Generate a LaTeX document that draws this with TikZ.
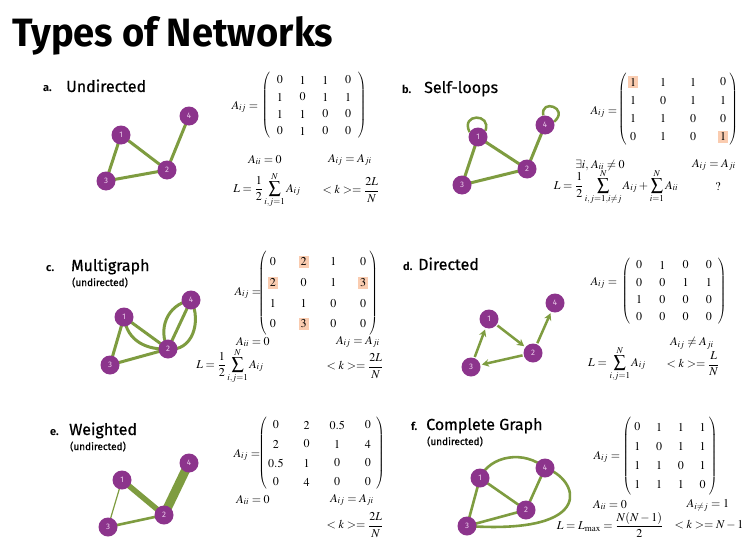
\documentclass[tikz,border=0pt]{standalone}
\usepackage{amsmath}
\usepackage{mathptmx}
\usepackage[no-math]{fontspec}
\setsansfont{Fira Sans}
\newfontfamily\medsans{Fira Sans}[FakeBold=0.6]
\usepackage{graphicx}
\usetikzlibrary{matrix,arrows.meta}
\pgfdeclarelayer{bg}
\pgfsetlayers{bg,main}
\definecolor{npurple}{RGB}{140,52,140}
\definecolor{ntext}{RGB}{236,206,236}
\definecolor{egreen}{RGB}{126,156,64}
\definecolor{hlc}{RGB}{250,204,176}
\setlength{\fboxsep}{2pt}
\newcommand{\hl}[1]{\colorbox{hlc}{$#1$}}
\tikzset{
 vtx/.style={circle, fill=npurple, minimum size=19pt, inner sep=0pt, text=ntext, font=\sffamily\fontsize{8}{8}\selectfont},
 gedge/.style={draw=egreen, line width=3pt},
 darr/.style={draw=egreen, line width=2.5pt, -{Stealth[length=7pt,width=7.5pt]}, shorten >=1.5pt, shorten <=1pt},
 ptitle/.style={anchor=base west, inner sep=0pt, font=\medsans\fontsize{16}{16}\selectfont},
 pletter/.style={anchor=base west, inner sep=0pt, font=\sffamily\bfseries\fontsize{11}{11}\selectfont},
 psub/.style={anchor=base west, inner sep=0pt, font=\medsans\fontsize{10}{10}\selectfont},
 fml/.style={inner sep=0pt, font=\fontsize{12}{14}\selectfont},
 every delimiter/.style={inner sep=0pt},
 dshift/.style={every left delimiter/.style={xshift=#1}, every right delimiter/.style={xshift=-#1}},
 mtx/.style={matrix of math nodes, left delimiter=(, right delimiter=), inner sep=0pt, row sep=0pt,
   nodes={inner sep=0pt, anchor=center, minimum width=10pt, font=\fontsize{12}{14}\selectfont}},
}
\begin{document}
\begin{tikzpicture}[x=1pt,y=-1pt]
\useasboundingbox (0,0) rectangle (752,543);
\begin{pgfonlayer}{bg}
\fill[white] (0,0) rectangle (752,543);
\end{pgfonlayer}
\node[anchor=base west, inner sep=0pt] (title) at (12,47) {\resizebox{321pt}{30pt}{\sffamily\bfseries Types of Networks}};

% ---------- a. Undirected
\node[pletter] (la1) at (43,92) {a.};
\node[ptitle] (la2) at (66,92) {Undirected};
\node[vtx] (a1) at (121,135) {1};
\node[vtx] (a2) at (167,170) {2};
\node[vtx] (a3) at (106,181) {3};
\node[vtx] (a4) at (189,116) {4};
\begin{pgfonlayer}{bg}
\draw[gedge] (a1.center) -- (a2.center);
\draw[gedge] (a1.center) -- (a3.center);
\draw[gedge] (a3.center) -- (a2.center);
\draw[gedge] (a2.center) -- (a4.center);
\end{pgfonlayer}
\node[fml] (aA) at (245,107) {$A_{ij}=$};
\matrix (ma) [mtx, inner xsep=3.5pt, column sep=12.7pt, nodes={minimum height=17pt}] at (314,105.5)
 {0&1&1&0\\1&0&1&1\\1&1&0&0\\0&1&0&0\\};
\node[fml] (aii) at (265,160) {$A_{ii}=0$};
\node[fml] (asym) at (350,160) {$A_{ij}=A_{ji}$};
\node[fml] (aL) at (267,190) {$L=\dfrac{1}{2}\displaystyle\sum_{i,j=1}^{N}A_{ij}$};
\node[fml] (ak) at (351,190) {$<k>=\dfrac{2L}{N}$};

% ---------- b. Self-loops
\node[pletter] (lb1) at (402,93) {b.};
\node[ptitle] (lb2) at (424,93) {Self-loops};
\node[vtx] (b1) at (478,137) {1};
\node[vtx] (b2) at (527,169) {2};
\node[vtx] (b3) at (462,185) {3};
\node[vtx] (b4) at (545,125) {4};
\begin{pgfonlayer}{bg}
\draw[gedge] (b1.center) -- (b2.center);
\draw[gedge] (b1.center) -- (b3.center);
\draw[gedge] (b3.center) -- (b2.center);
\draw[gedge] (b2.center) -- (b4.center);
\draw[gedge, line width=2.5pt] (b1.150) .. controls (460,113) and (492,113) .. (b1.40);
\draw[gedge, line width=2.5pt] (b4.100) .. controls (540,98) and (570,108) .. (b4.20);
\end{pgfonlayer}
\node[fml] (bA) at (604,112) {$A_{ij}=$};
\matrix (mb) [mtx, dshift=5pt, column sep=20pt, nodes={minimum height=18.3pt}] at (678,109.5)
 {\hl{1}&1&1&0\\1&0&1&1\\1&1&0&0\\0&1&0&\hl{1}\\};
\node[fml] (bii) at (600,165) {$\exists i,\, A_{ii}\neq 0$};
\node[fml] (bsym) at (714,165) {$A_{ij}=A_{ji}$};
\node[fml] (bL) at (616,187) {$L=\dfrac{1}{2}\displaystyle\sum_{i,j=1,i\neq j}^{N}A_{ij}+\sum_{i=1}^{N}A_{ii}$};
\node[fml] (bk) at (718,187) {$?$};

% ---------- c. Multigraph
\node[pletter] (lc1) at (46,271) {c.};
\node[ptitle] (lc2) at (71,271) {Multigraph};
\node[psub] (lc3) at (72,286) {(undirected)};
\node[vtx] (c1) at (124,317) {1};
\node[vtx] (c2) at (168,349) {2};
\node[vtx] (c3) at (110,365) {3};
\node[vtx] (c4) at (191,300) {4};
\begin{pgfonlayer}{bg}
\draw[gedge] (c1.center) -- (c3.center);
\draw[gedge] (c3.center) -- (c2.center);
\draw[gedge] (c1.center) -- (c2.center);
\draw[gedge] (c1.center) .. controls (127,342) and (148,350) .. (c2.center);
\draw[gedge] (c2.center) -- (c4.center);
\draw[gedge] (c2.center) .. controls (158,330) and (166,305) .. (c4.center);
\draw[gedge] (c2.center) .. controls (192,352) and (202,322) .. (c4.center);
\end{pgfonlayer}
\node[fml] (cA) at (248,293) {$A_{ij}=$};
\matrix (mc) [mtx, dshift=7pt, column sep=20.7pt, nodes={minimum height=20.7pt, minimum width=8pt}] at (318,293)
 {0&\hl{2}&1&0\\\hl{2}&0&1&\hl{3}\\1&1&0&0\\0&\hl{3}&0&0\\};
\node[fml] (cii) at (253,342) {$A_{ii}=0$};
\node[fml] (csym) at (358,342) {$A_{ij}=A_{ji}$};
\node[fml] (cL) at (230,366) {$L=\dfrac{1}{2}\displaystyle\sum_{i,j=1}^{N}A_{ij}$};
\node[fml] (ck) at (355,366) {$<k>=\dfrac{2L}{N}$};

% ---------- d. Directed
\node[pletter] (ld1) at (403,270) {d.};
\node[ptitle] (ld2) at (418,270) {Directed};
\node[vtx] (d1) at (489,319) {1};
\node[vtx] (d2) at (533,353) {2};
\node[vtx] (d3) at (471,367) {3};
\node[vtx] (d4) at (555,303) {4};
\draw[darr] (d1) -- (d2);
\draw[darr] (d2) -- (d3);
\draw[darr] (d3) -- (d1);
\draw[darr] (d2) -- (d4);
\node[fml] (dA) at (604,283) {$A_{ij}=$};
\matrix (md) [mtx, inner xsep=2.5pt, column sep=13.3pt, nodes={minimum height=17.3pt}] at (674,291)
 {0&1&0&0\\0&0&1&1\\1&0&0&0\\0&0&0&0\\};
\node[fml] (dsym) at (692,343) {$A_{ij}\neq A_{ji}$};
\node[fml] (dL) at (617,364) {$L=\displaystyle\sum_{i,j=1}^{N}A_{ij}$};
\node[fml] (dk) at (693,364) {$<k>=\dfrac{L}{N}$};

% ---------- e. Weighted
\node[pletter] (le1) at (50,435) {e.};
\node[ptitle] (le2) at (69,435) {Weighted};
\node[psub] (le3) at (70,450) {(undirected)};
\node[vtx] (e1) at (122,480) {1};
\node[vtx] (e2) at (164,515) {2};
\node[vtx] (e3) at (108,527) {3};
\node[vtx] (e4) at (189,463) {4};
\begin{pgfonlayer}{bg}
\draw[gedge, line width=1.2pt] (e1.center) -- (e3.center);
\draw[gedge, line width=2.6pt] (e3.center) -- (e2.center);
\draw[gedge, line width=5.5pt] (e1.center) -- (e2.center);
\draw[gedge, line width=9pt] (e2.center) -- (e4.center);
\end{pgfonlayer}
\node[fml] (eA) at (247,455) {$A_{ij}=$};
\matrix (me) [mtx, dshift=7pt, column sep=16pt, nodes={minimum height=19pt, minimum width=14pt}] at (321.5,453.5)
 {0&2&0.5&0\\2&0&1&4\\0.5&1&0&0\\0&4&0&0\\};
\node[fml] (eii) at (253,500) {$A_{ii}=0$};
\node[fml] (esym) at (352,500) {$A_{ij}=A_{ji}$};
\node[fml] (ek) at (355,525) {$<k>=\dfrac{2L}{N}$};

% ---------- f. Complete Graph
\node[pletter] (lf1) at (411,430) {f.};
\node[ptitle] (lf2) at (426,430) {Complete Graph};
\node[psub] (lf3) at (427,445) {(undirected)};
\node[vtx] (f1) at (480,478) {1};
\node[vtx] (f2) at (526,510) {2};
\node[vtx] (f3) at (467,526) {3};
\node[vtx] (f4) at (545,468) {4};
\begin{pgfonlayer}{bg}
\draw[gedge, line width=2.6pt] (f1.center) -- (f3.center);
\draw[gedge, line width=2.6pt] (f1.center) -- (f2.center);
\draw[gedge, line width=2.6pt] (f3.center) -- (f2.center);
\draw[gedge, line width=2.6pt] (f2.center) -- (f4.center);
\draw[gedge, line width=2.6pt] (f1.center) .. controls (490,455) and (525,450) .. (f4.center);
\draw[gedge, line width=2.6pt] (f3.center) .. controls (600,535) and (578,478) .. (f4.center);
\end{pgfonlayer}
\node[fml] (fA) at (607,457) {$A_{ij}=$};
\matrix (mf) [mtx, dshift=4pt, column sep=11.7pt, nodes={minimum height=19.3pt}] at (670,456)
 {0&1&1&1\\1&0&1&1\\1&1&0&1\\1&1&1&0\\};
\node[fml] (fii) at (610,505) {$A_{ii}=0$};
\node[fml] (fij) at (708,505) {$A_{i\neq j}=1$};
\node[fml] (fL) at (610,525) {$L=L_{\mathrm{max}}=\dfrac{N(N-1)}{2}$};
\node[fml] (fk) at (709,525) {$<k>=N-1$};
\end{tikzpicture}
\end{document}
